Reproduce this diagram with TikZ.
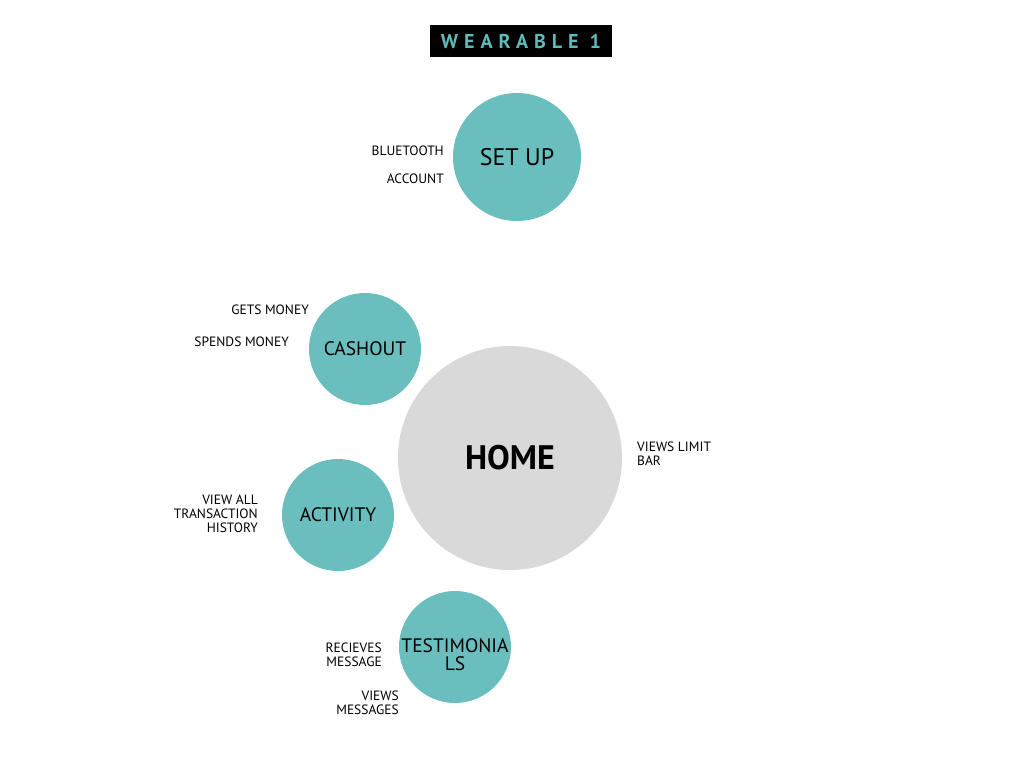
\documentclass[tikz,border=0pt]{standalone}
\usepackage{fontspec}
\setmainfont{PT Sans}
\usetikzlibrary{positioning}
\definecolor{WearTeal}{RGB}{106,191,190}
\definecolor{HomeGrey}{RGB}{217,217,217}
\definecolor{TitleTeal}{RGB}{96,186,184}

\begin{document}
\begin{tikzpicture}[x=1pt, y=-1pt,
  every node/.style={inner sep=0pt},
  screen/.style={circle, fill=WearTeal, font=\fontsize{19.5}{22}\selectfont, align=center},
  note/.style={font=\fontsize{13.5}{14}\selectfont},
  noteleft/.style={note, anchor=east, align=right},
  noteright/.style={note, anchor=west, align=left}]
  \useasboundingbox[fill=white] (0,0) rectangle (1024,768);
  % title
  \node[fill=black, minimum width=182pt, minimum height=32pt, text=TitleTeal,
    font=\fontsize{20}{20}\selectfont\bfseries\addfontfeature{LetterSpace=30}] (title) at (521,41) {WEARABLE 1};
  % screens
  \node[circle, fill=HomeGrey, minimum size=224pt, font=\fontsize{34}{36}\selectfont\bfseries] (home) at (510,458) {HOME};
  \node[screen, minimum size=128pt, font=\fontsize{24}{26}\selectfont] (setup) at (517,157) {SET UP};
  \node[screen, minimum size=112pt] (cashout) at (365,349) {CASHOUT};
  \node[screen, minimum size=112pt] (activity) at (338,515) {ACTIVITY};
  \node[screen, minimum size=112pt,
    label={[font=\fontsize{19.5}{18}\selectfont, align=center, yshift=-8pt]center:TESTIMONIA\\LS}] (testimonials) at (455,647) {};
  % features
  \node[noteleft] (bluetooth) at (444,151) {BLUETOOTH};
  \node[noteleft] (account) at (444,179) {ACCOUNT};
  \node[noteleft] (gets) at (309,310) {GETS MONEY};
  \node[noteleft] (spends) at (289,342) {SPENDS MONEY};
  \node[noteleft] (history) at (258,514) {VIEW ALL\\TRANSACTION\\HISTORY\hspace{2pt}};
  \node[noteright] (limit) at (637,454) {VIEWS LIMIT\\BAR};
  \node[noteleft] (receives) at (382,655) {RECIEVES\\MESSAGE};
  \node[noteleft] (messages) at (399,703) {VIEWS\\MESSAGES};
\end{tikzpicture}
\end{document}
